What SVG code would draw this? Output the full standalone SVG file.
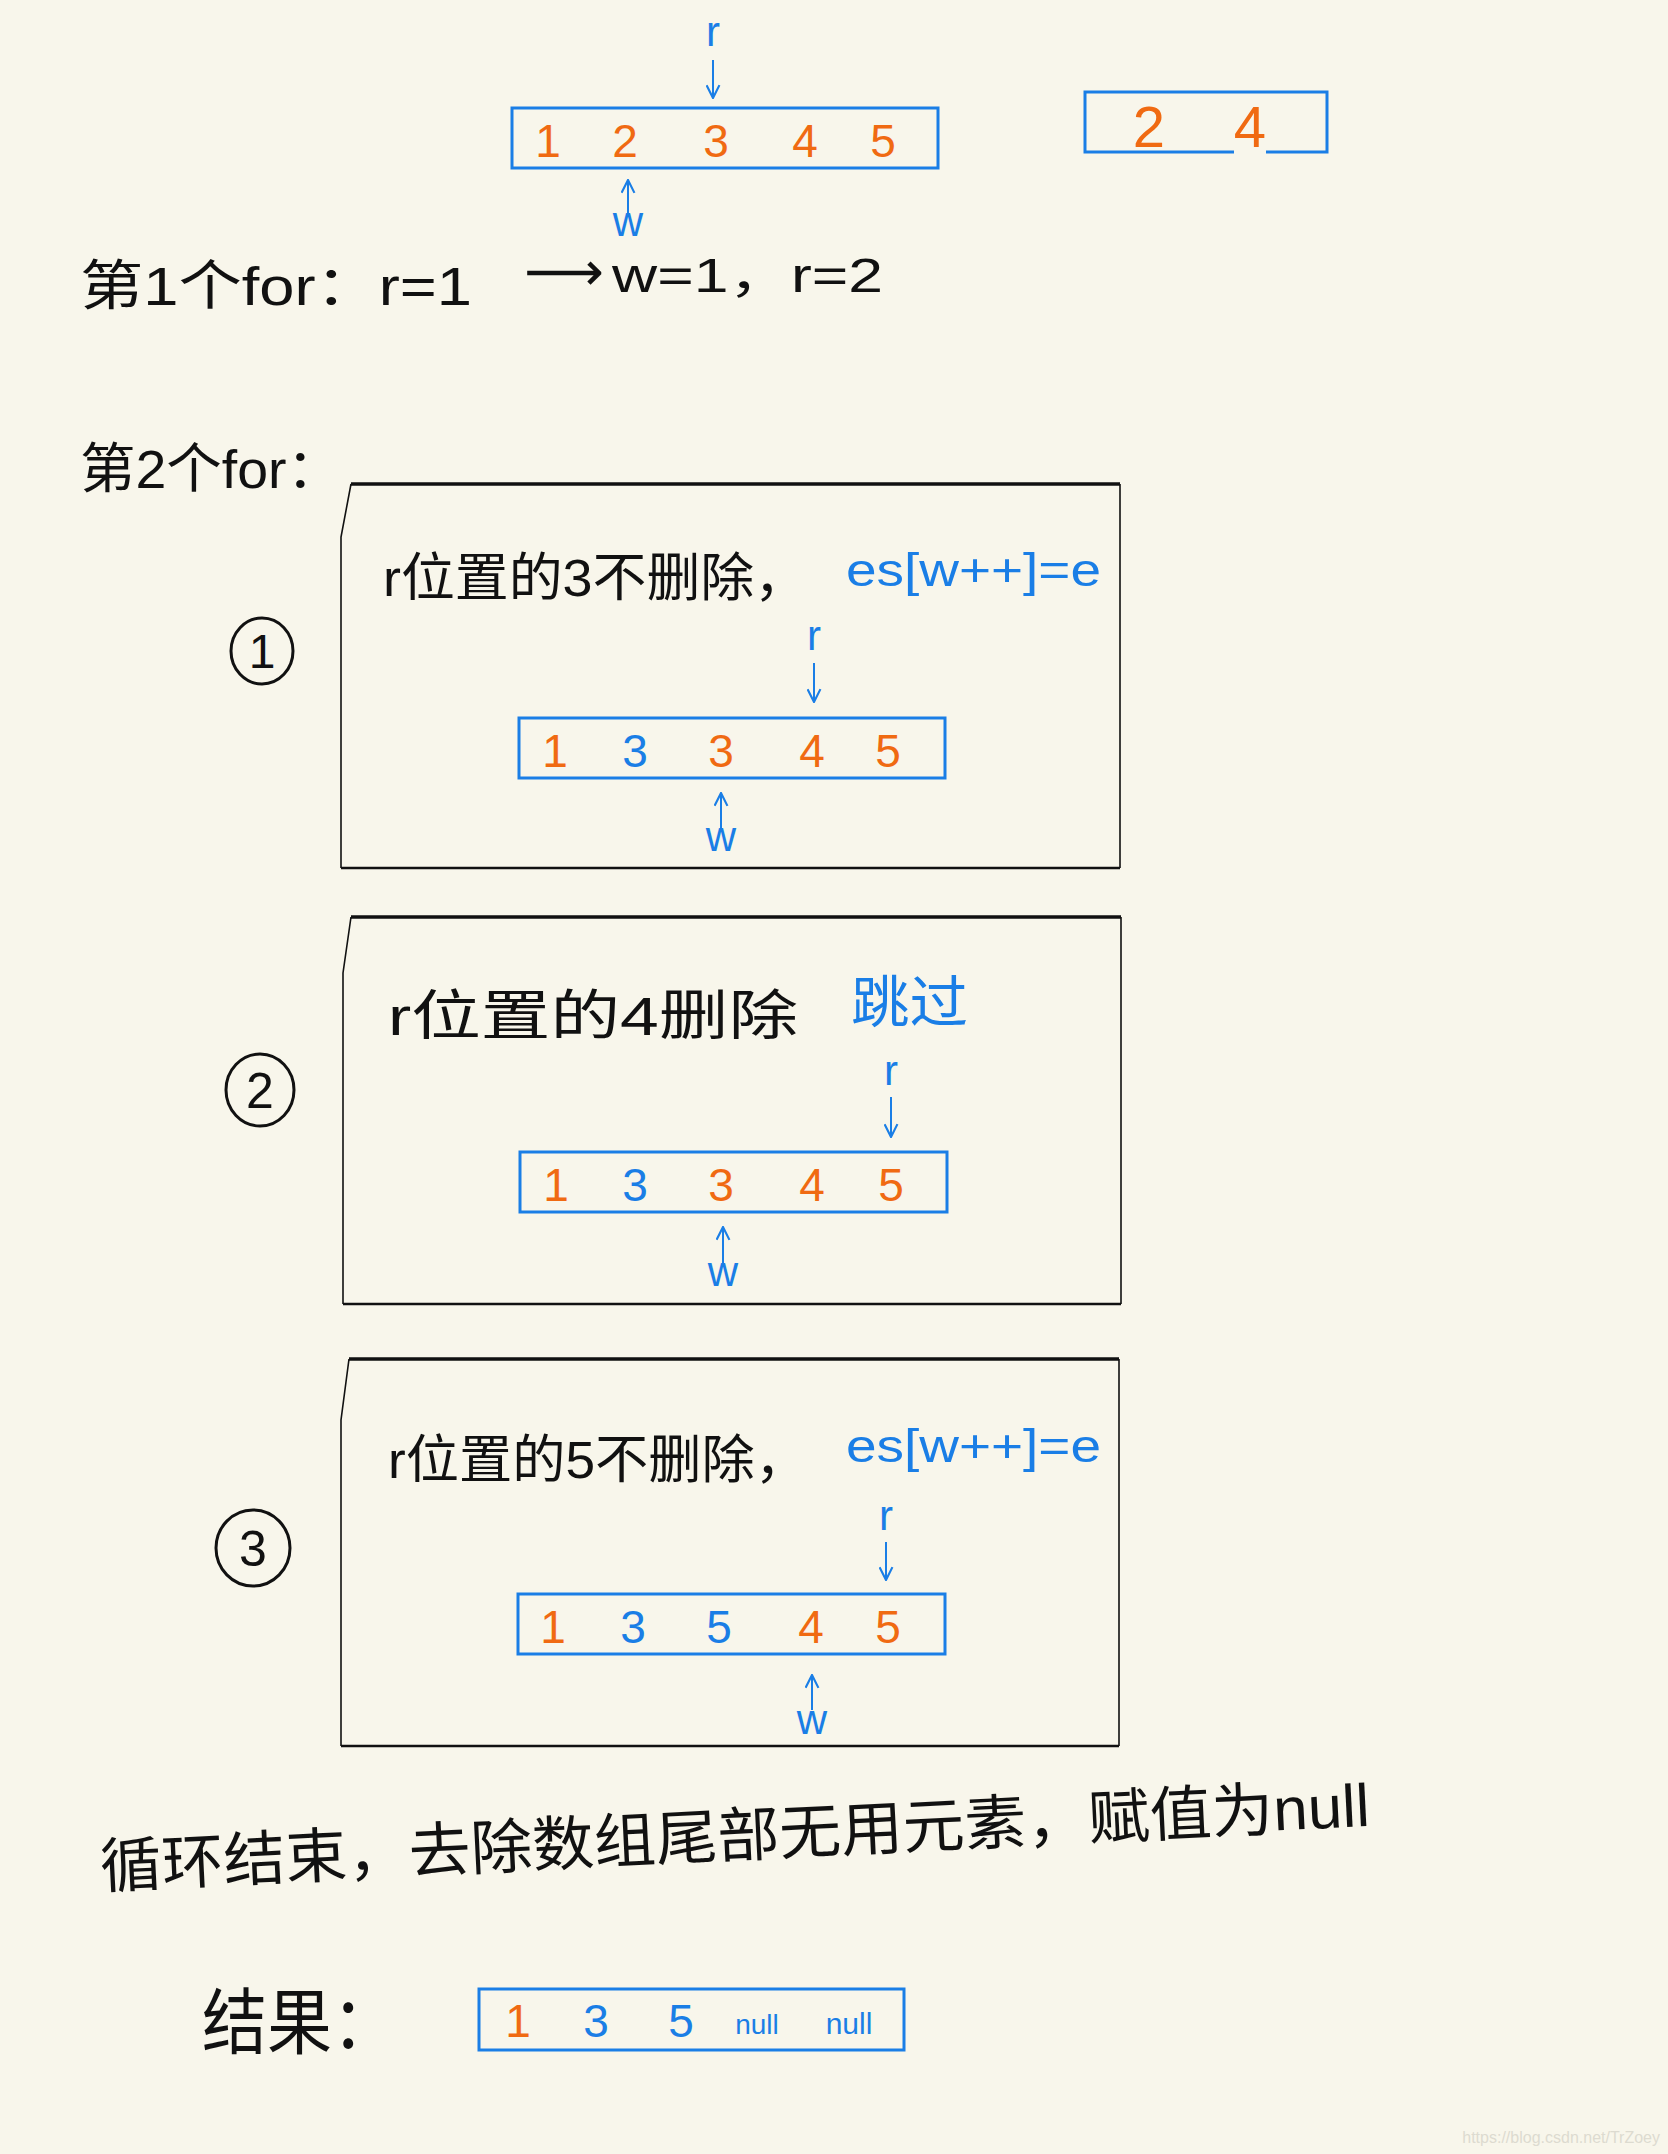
<svg xmlns="http://www.w3.org/2000/svg" width="1668" height="2154" viewBox="0 0 1668 2154">
<defs>
<style>
.bg{fill:#f8f6eb}
.hand{font-family:"Liberation Sans","Noto Sans CJK SC",sans-serif;fill:#111}
.blue{fill:#1a7ee6}
.orange{fill:#f06a12}
.dig{font-family:"Liberation Sans","Noto Sans CJK SC",sans-serif;font-size:46px;text-anchor:middle}
.lbl{font-family:"Liberation Sans",sans-serif;font-size:42px;text-anchor:middle;fill:#1a7ee6}
.arr{fill:none;stroke:#1a7ee6;stroke-width:3}
.ptr{stroke:#1a7ee6;stroke-width:2;fill:none}
.frame{fill:none;stroke:#111;stroke-width:1.6}
.frameT{fill:none;stroke:#111;stroke-width:3.5}
.circ{fill:none;stroke:#111;stroke-width:3}
</style>
<marker id="ah" viewBox="0 0 14 14" refX="13" refY="7" markerWidth="15" markerHeight="15" markerUnits="userSpaceOnUse" orient="auto">
<path d="M1,1 L13,7 L1,13" fill="none" stroke="#1a7ee6" stroke-width="2"/>
</marker>
</defs>
<rect class="bg" x="0" y="0" width="1668" height="2154"/>

<!-- top section -->
<g id="top-array">
<rect class="arr" x="512" y="108" width="426" height="60"/>
<text class="dig orange" x="548" y="157">1</text>
<text class="dig orange" x="625" y="157">2</text>
<text class="dig orange" x="716" y="157">3</text>
<text class="dig orange" x="805" y="157">4</text>
<text class="dig orange" x="883" y="157">5</text>
</g>
<g id="top-r"><text class="lbl" x="713" y="46">r</text></g>
<g id="top-w"><text class="lbl" x="628" y="236">w</text></g>

<g id="right-box">
<path class="arr" d="M1234,152 L1085,152 L1085,92 L1327,92 L1327,152 L1266,152"/>
<text class="dig orange" x="1149" y="147" style="font-size:58px">2</text>
<text class="dig orange" x="1250" y="147" style="font-size:58px">4</text>
</g>

<g id="line1">
<text class="hand" x="80" y="305" font-size="54" textLength="392" lengthAdjust="spacingAndGlyphs">第1个for：r=1</text>
<text class="hand" x="524" y="290" font-size="54" style="font-family:'DejaVu Sans',sans-serif" textLength="80" lengthAdjust="spacingAndGlyphs">⟶</text>
<text class="hand" x="612" y="292" font-size="48" textLength="271" lengthAdjust="spacingAndGlyphs">w=1，r=2</text>
</g>

<g id="line2">
<text class="hand" x="80" y="488" font-size="54" textLength="262" lengthAdjust="spacingAndGlyphs">第2个for：</text>
</g>

<!-- step 1 -->
<g id="step1">
<path class="frameT" d="M351,484 L1120,484"/>
<path class="frame" d="M1120,484 L1120,868 M351,484 L341,537 L341,868"/>
<path class="frameT" d="M341,868 L1120,868" style="stroke-width:2.5"/>
<text class="hand" x="383" y="596" font-size="52" textLength="425" lengthAdjust="spacingAndGlyphs">r位置的3不删除，</text>
<text class="hand blue" x="846" y="586" font-size="46" textLength="255" lengthAdjust="spacingAndGlyphs">es[w++]=e</text>
<rect class="arr" x="519" y="718" width="426" height="60"/>
<text class="dig orange" x="555" y="767">1</text>
<text class="dig blue" x="635" y="767">3</text>
<text class="dig orange" x="721" y="767">3</text>
<text class="dig orange" x="812" y="767">4</text>
<text class="dig orange" x="888" y="767">5</text>
<text class="lbl" x="814" y="650">r</text>
<text class="lbl" x="721" y="851">w</text>
</g>
<g id="num1">
<ellipse class="circ" cx="262" cy="651" rx="31" ry="33"/>
<text class="hand" x="262" y="668" font-size="48" text-anchor="middle">1</text>
</g>

<!-- step 2 -->
<g id="step2">
<path class="frameT" d="M351,917 L1121,917"/>
<path class="frame" d="M1121,917 L1121,1304 M351,917 L343,973 L343,1304"/>
<path class="frameT" d="M343,1304 L1121,1304" style="stroke-width:2.5"/>
<text class="hand" x="388" y="1035" font-size="54" textLength="410" lengthAdjust="spacingAndGlyphs">r位置的4删除</text>
<text class="hand blue" x="851" y="1022" font-size="56" textLength="117" lengthAdjust="spacingAndGlyphs">跳过</text>
<rect class="arr" x="520" y="1152" width="427" height="60"/>
<text class="dig orange" x="556" y="1201">1</text>
<text class="dig blue" x="635" y="1201">3</text>
<text class="dig orange" x="721" y="1201">3</text>
<text class="dig orange" x="812" y="1201">4</text>
<text class="dig orange" x="891" y="1201">5</text>
<text class="lbl" x="891" y="1085">r</text>
<text class="lbl" x="723" y="1286">w</text>
</g>
<g id="num2">
<ellipse class="circ" cx="260" cy="1090" rx="34" ry="36"/>
<text class="hand" x="260" y="1108" font-size="50" text-anchor="middle">2</text>
</g>

<!-- step 3 -->
<g id="step3">
<path class="frameT" d="M349,1359 L1119,1359"/>
<path class="frame" d="M1119,1359 L1119,1746 M349,1359 L341,1420 L341,1746"/>
<path class="frameT" d="M341,1746 L1119,1746" style="stroke-width:2.5"/>
<text class="hand" x="388" y="1478" font-size="52" textLength="420" lengthAdjust="spacingAndGlyphs">r位置的5不删除，</text>
<text class="hand blue" x="846" y="1462" font-size="46" textLength="255" lengthAdjust="spacingAndGlyphs">es[w++]=e</text>
<rect class="arr" x="518" y="1594" width="427" height="60"/>
<text class="dig orange" x="553" y="1643">1</text>
<text class="dig blue" x="633" y="1643">3</text>
<text class="dig blue" x="719" y="1643">5</text>
<text class="dig orange" x="811" y="1643">4</text>
<text class="dig orange" x="888" y="1643">5</text>
<text class="lbl" x="886" y="1530">r</text>
<text class="lbl" x="812" y="1734">w</text>
</g>
<g id="num3">
<ellipse class="circ" cx="253" cy="1548" rx="37" ry="38"/>
<text class="hand" x="253" y="1566" font-size="50" text-anchor="middle">3</text>
</g>

<!-- summary -->
<g id="summary">
<text class="hand" x="101" y="1888" font-size="60" textLength="1271" lengthAdjust="spacingAndGlyphs" transform="rotate(-2.8 101 1888)">循环结束，去除数组尾部无用元素，赋值为null</text>
</g>
<g id="result">
<text class="hand" x="202" y="2048" font-size="72" textLength="195" lengthAdjust="spacingAndGlyphs">结果：</text>
<rect class="arr" x="479" y="1989" width="425" height="61"/>
<text class="dig orange" x="518" y="2037">1</text>
<text class="dig blue" x="596" y="2037">3</text>
<text class="dig blue" x="681" y="2037">5</text>
<text class="dig blue" x="757" y="2034" style="font-size:28px">null</text>
<text class="dig blue" x="849" y="2034" style="font-size:30px">null</text>
</g>

<g id="connectors">
<line class="ptr" x1="713" y1="60" x2="713" y2="98" marker-end="url(#ah)"/>
<line class="ptr" x1="628" y1="213" x2="628" y2="180" marker-end="url(#ah)"/>
<line class="ptr" x1="814" y1="663" x2="814" y2="702" marker-end="url(#ah)"/>
<line class="ptr" x1="721" y1="830" x2="721" y2="793" marker-end="url(#ah)"/>
<line class="ptr" x1="891" y1="1097" x2="891" y2="1137" marker-end="url(#ah)"/>
<line class="ptr" x1="723" y1="1263" x2="723" y2="1227" marker-end="url(#ah)"/>
<line class="ptr" x1="886" y1="1542" x2="886" y2="1580" marker-end="url(#ah)"/>
<line class="ptr" x1="812" y1="1710" x2="812" y2="1675" marker-end="url(#ah)"/>
</g>

<text x="1660" y="2143" font-family="Liberation Sans, sans-serif" font-size="16" fill="#dddbd0" text-anchor="end">https://blog.csdn.net/TrZoey</text>
</svg>
